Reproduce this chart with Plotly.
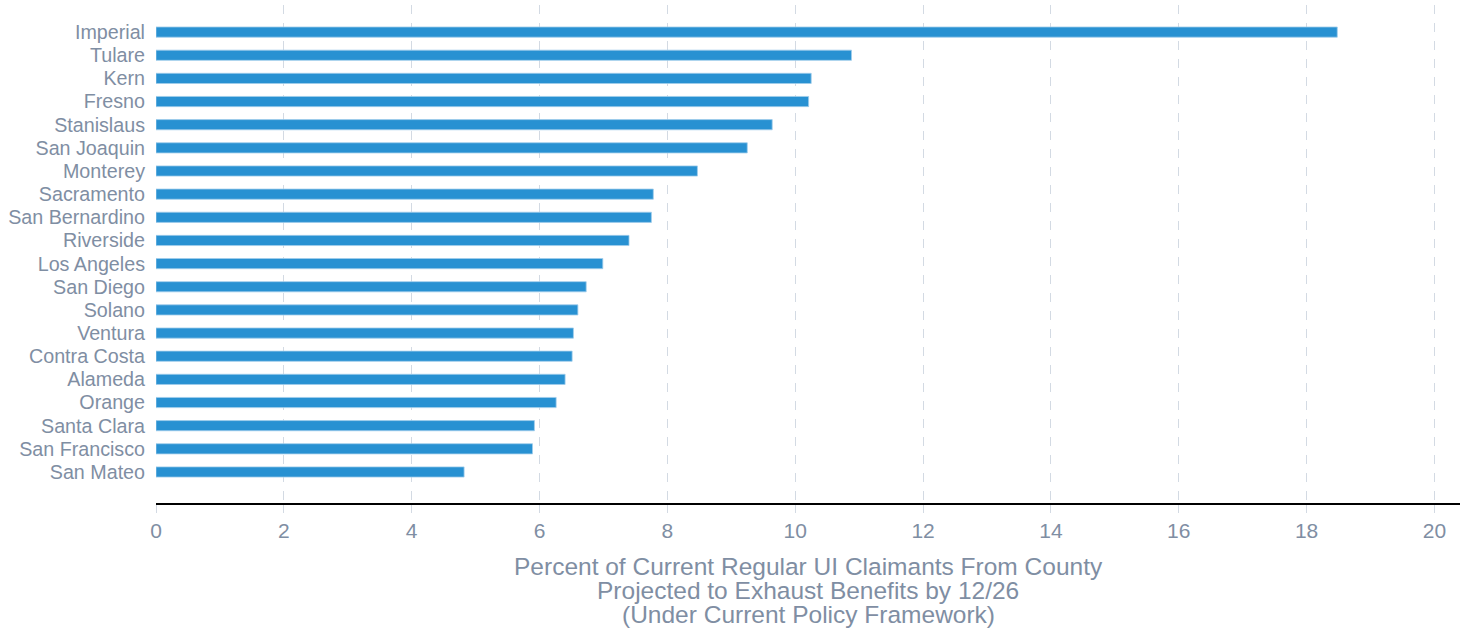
import plotly.graph_objects as go

counties = ["Imperial", "Tulare", "Kern", "Fresno", "Stanislaus", "San Joaquin",
            "Monterey", "Sacramento", "San Bernardino", "Riverside", "Los Angeles",
            "San Diego", "Solano", "Ventura", "Contra Costa", "Alameda", "Orange",
            "Santa Clara", "San Francisco", "San Mateo"]
values = [18.48, 10.88, 10.25, 10.21, 9.64, 9.25, 8.47, 7.78, 7.75, 7.40, 6.99,
          6.73, 6.60, 6.53, 6.51, 6.40, 6.26, 5.92, 5.89, 4.82]
x_ticks = [0, 2, 4, 6, 8, 10, 12, 14, 16, 18, 20]
x_title_lines = ["Percent of Current Regular UI Claimants From County",
                 "Projected to Exhaust Benefits by 12/26",
                 "(Under Current Policy Framework)"]

text_color = "#7f8ea3"
grid_color = "#d3dae3"

fig = go.Figure(go.Bar(
    x=values, y=counties, orientation="h",
    width=0.44,
    marker=dict(color="#2891d2", line=dict(color="rgba(160,205,235,0.8)", width=1)),
))

fig.update_layout(
    width=1467, height=633,
    margin=dict(l=156, r=7, t=5, b=130),
    paper_bgcolor="white", plot_bgcolor="white",
    font=dict(family="Liberation Sans, Arial, sans-serif", color=text_color),
    showlegend=False,
    xaxis=dict(
        range=[0, 20.4], tickvals=x_ticks, automargin=False,
        showgrid=True, gridcolor=grid_color, griddash="dash", gridwidth=1,
        zeroline=False,
        showline=True, linecolor="black", linewidth=1.5,
        ticks="outside", ticklen=8, tickcolor=grid_color,
        tickfont=dict(size=21, color=text_color),
    ),
    yaxis=dict(
        categoryorder="array", categoryarray=counties, automargin=False,
        tickmode="array", tickvals=counties, ticktext=counties,
        range=[20.34, -1.17],
        showgrid=False, zeroline=False, showline=False,
        ticks="", ticklabelstandoff=10,
        tickfont=dict(size=19.7, color=text_color),
    ),
)

for i, line in enumerate(x_title_lines):
    fig.add_annotation(
        text=line, xref="paper", yref="paper", x=0.5, y=0,
        xanchor="center", yanchor="middle", yshift=-63 - 24 * i,
        showarrow=False, font=dict(size=24.5, color=text_color),
    )

fig.write_html("out.html", config={"displayModeBar": False},
               post_script="document.body.style.margin='0px';document.body.style.padding='0px';")
